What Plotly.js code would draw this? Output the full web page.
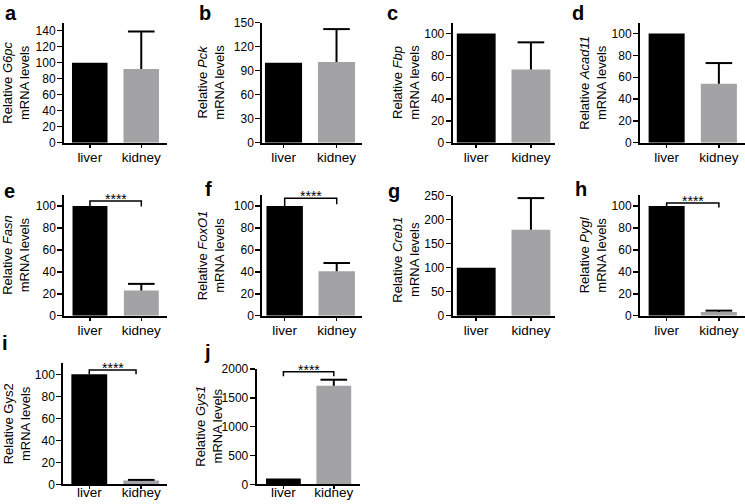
<!DOCTYPE html>
<html>
<head>
<meta charset="utf-8">
<script src="https://cdn.plot.ly/plotly-3.0.1.min.js"></script>
<style>html,body{margin:0;padding:0;background:#fff;}#chart{width:745px;height:504px;}</style>
</head>
<body>
<div id="chart"></div>
<script>
// ---- data ----
const categories = ['liver', 'kidney'];
const panelLetters = ['a','b','c','d','e','f','g','h','i','j'];
const genes = ['G6pc','Pck','Fbp','Acad11','Fasn','FoxO1','Creb1','Pygl','Gys2','Gys1'];
const geneItalic = [true,true,true,true,true,true,true,true,false,true];
const liverValues = [100,100,100,100,100,100,100,100,100,100];
const kidneyValues = [92,101,67,54,23,40.5,179,3.4,3.4,1710];
const kidneyErrors = [47,41,25,19,6,7.5,66,1.2,0.6,104];
const yMax = [150,150,110,110,110,110,250,110,110,2000];
const yDtick = [20,30,20,20,20,20,50,20,20,500];
const sigLabel = '****';
const bracketTop = [null,null,null,null,104.6,107,null,102.7,104,1953];
const bracketLeftEnd = [null,null,null,null,100,100,null,100,100,1873];
const bracketRightEnd = [null,null,null,null,99.5,101.5,null,98.5,100,1873];
const bracketRightX = [null,null,null,null,1,1,null,1,0.9,1];

// ---- layout geometry (pixels) ----
const W = 745, H = 504;
const boxes = [
  [64,167,22.7,142.7],[262.3,361.7,22.7,142.7],[452.7,555,22.7,142.7],[640,745,22.7,142.7],
  [64.3,167,195,315.7],[262.3,361.7,195,315.7],[452.7,555,195.7,315.7],[640,745,195,315.7],
  [63.3,166.7,363.3,484.3],[256.7,360,369,484.3]
];
const xRanges = [[-0.5,1.5],[-0.4,1.475],[-0.43,1.44],[-0.51,1.5],[-0.5,1.5],[-0.43,1.48],[-0.43,1.44],[-0.51,1.5],[-0.5,1.49],[-0.53,1.52]];
const barWidths = [0.69,0.7,0.71,0.69,0.68,0.7,0.71,0.69,0.69,0.69];
const xLabelStandoff = [-2,-2,-2,-2,-2,-2,-2,-2,-9,-9];
const titleX = [16,211,406,593,16.5,211,406,593,16.5,209];
const titleYShift = [0,0,0,0,0,0,4,0,0,0];
const letterPos = [[3,12.5],[197,12.5],[385,13],[570,12.5],[2,190.5],[203,189],[386,191],[573,189],[0,342.5],[202,352]];

const FONT = 'Liberation Sans, Arial, Helvetica, sans-serif';
const black = '#000000', gray = '#a3a3a5';

const traces = [];
const layout = {
  width: W, height: H,
  margin: {l:0, r:0, t:0, b:0},
  paper_bgcolor: '#ffffff', plot_bgcolor: 'rgba(0,0,0,0)',
  showlegend: false,
  font: {family: FONT, color: black},
  annotations: []
};

const xIdx = categories.map((c, i) => i);

for (let p = 0; p < 10; p++) {
  const n = p === 0 ? '' : String(p + 1);
  const xa = 'x' + n, ya = 'y' + n;
  const [x0, x1, yt, yb] = boxes[p];
  layout['xaxis' + n] = {
    domain: [x0 / W, Math.min(1, x1 / W)],
    anchor: ya,
    range: xRanges[p],
    tickvals: xIdx, ticktext: categories,
    showline: true, linecolor: black, linewidth: 2,
    ticks: 'outside', ticklen: 3, tickwidth: 1.5, tickcolor: black,
    ticklabelstandoff: xLabelStandoff[p],
    showgrid: false, zeroline: false,
    tickfont: {family: FONT, size: 13.5, color: black},
    fixedrange: true
  };
  layout['yaxis' + n] = {
    domain: [1 - yb / H, 1 - yt / H],
    anchor: xa,
    range: [0, yMax[p]],
    dtick: yDtick[p], tick0: 0,
    showline: true, linecolor: black, linewidth: 2,
    ticks: 'outside', ticklen: 5, tickwidth: 1.5, tickcolor: black,
    ticklabelstandoff: -1,
    showgrid: false, zeroline: false,
    tickfont: {family: FONT, size: 12, color: black},
    fixedrange: true
  };
  traces.push({
    type: 'bar', xaxis: xa, yaxis: ya,
    x: xIdx, y: [liverValues[p], kidneyValues[p]],
    width: barWidths[p],
    marker: {color: [black, gray], line: {width: 0}},
    hoverinfo: 'skip'
  });
  // one-sided error bar on kidney (stem + top cap)
  const kv = kidneyValues[p], ke = kidneyErrors[p];
  traces.push({
    type: 'scatter', mode: 'lines', xaxis: xa, yaxis: ya,
    x: [xIdx[1], xIdx[1]], y: [kv, kv + ke],
    line: {color: black, width: 2}, hoverinfo: 'skip', cliponaxis: false
  });
  traces.push({
    type: 'scatter', mode: 'markers', xaxis: xa, yaxis: ya,
    x: [xIdx[1]], y: [kv + ke],
    marker: {symbol: 'line-ew', size: 19, color: black, line: {color: black, width: 2}},
    hoverinfo: 'skip', cliponaxis: false
  });
  if (bracketTop[p] !== null) {
    traces.push({
      type: 'scatter', mode: 'lines', xaxis: xa, yaxis: ya,
      x: [0, 0, bracketRightX[p], bracketRightX[p]],
      y: [bracketLeftEnd[p], bracketTop[p], bracketTop[p], bracketRightEnd[p]],
      line: {color: black, width: 1.5}, hoverinfo: 'skip', cliponaxis: false
    });
    layout.annotations.push({
      xref: xa, yref: ya, x: bracketRightX[p] / 2, y: bracketTop[p],
      text: sigLabel, showarrow: false, xanchor: 'center', yanchor: 'middle', yshift: 2,
      font: {family: FONT, size: 14, color: black}
    });
  }
  const gene = geneItalic[p] ? '<i>' + genes[p] + '</i>' : genes[p];
  layout.annotations.push({
    xref: 'paper', yref: 'paper',
    x: titleX[p] / W, y: 1 - ((yt + yb) / 2) / H, yshift: -titleYShift[p],
    text: 'Relative ' + gene + '<br>mRNA levels',
    textangle: -90, showarrow: false, xanchor: 'center', yanchor: 'middle',
    font: {family: FONT, size: 13, color: black}
  });
  layout.annotations.push({
    xref: 'paper', yref: 'paper',
    x: letterPos[p][0] / W, y: 1 - letterPos[p][1] / H,
    text: '<b>' + panelLetters[p] + '</b>',
    showarrow: false, xanchor: 'left', yanchor: 'middle',
    font: {family: FONT, size: 20, color: black}
  });
}

Plotly.newPlot('chart', traces, layout, {staticPlot: true, displayModeBar: false});
</script>
</body>
</html>
